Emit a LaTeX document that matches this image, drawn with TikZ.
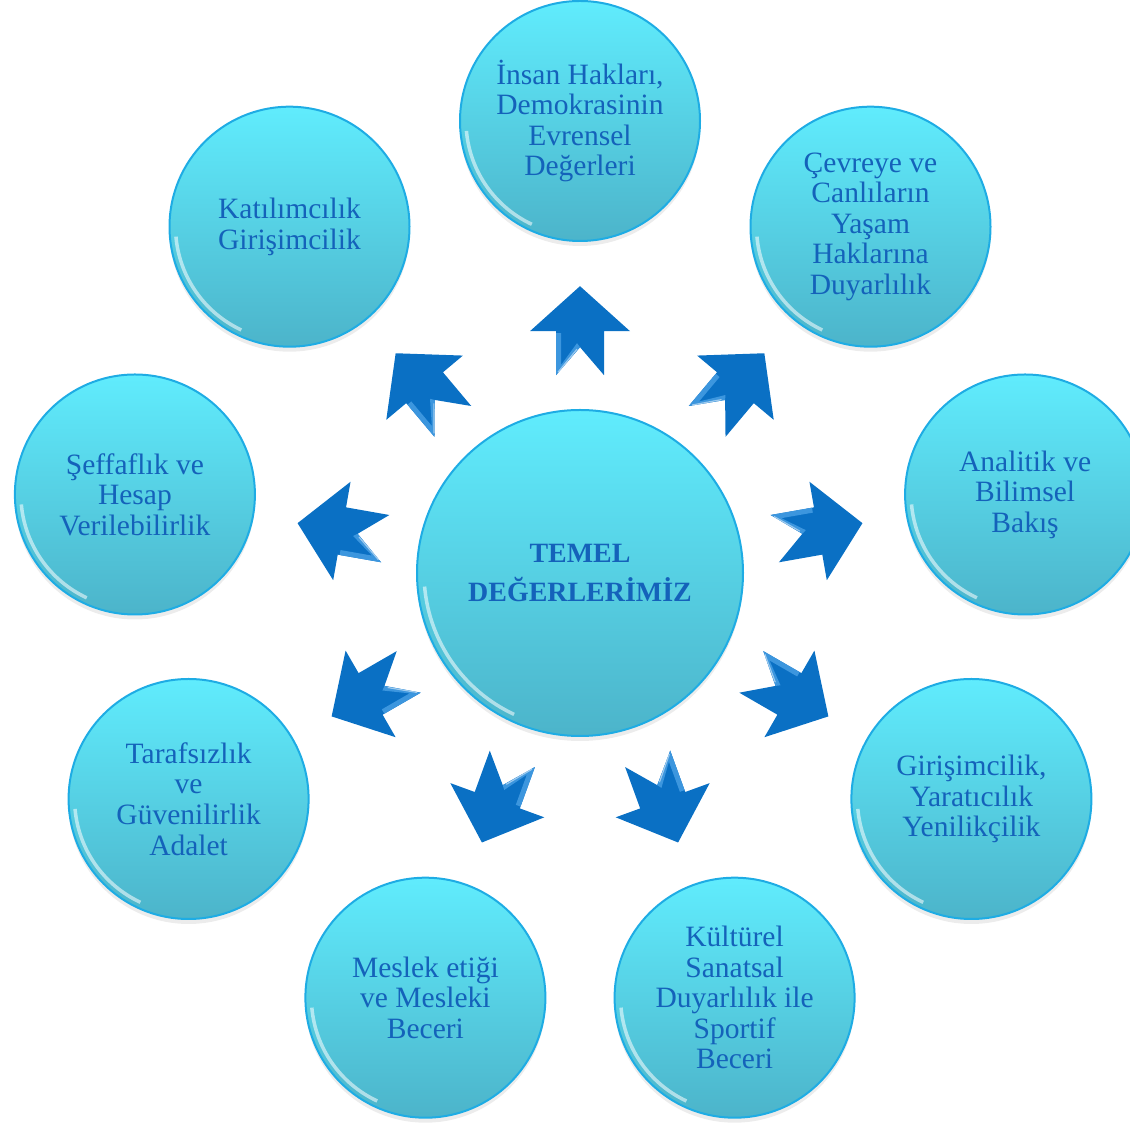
\documentclass[tikz,border=0pt]{standalone}
\usepackage{fontspec}
\setmainfont{Liberation Serif}
\usetikzlibrary{calc,shadows}

\newlength{\du}
\setlength{\du}{0.02cm}

\definecolor{arrowblue}{RGB}{10,112,196}
\definecolor{arrowshine}{RGB}{60,150,222}
\definecolor{inkblue}{RGB}{20,98,186}
\definecolor{balltop}{RGB}{96,236,253}
\definecolor{ballbottom}{RGB}{76,180,202}
\definecolor{ballrim}{RGB}{30,172,228}

\tikzset{
  ball/.style={circle, draw=ballrim, line width=2\du, top color=balltop,
    bottom color=ballbottom, inner sep=0pt, text=inkblue, align=center,
    drop shadow={opacity=.15, shadow xshift=0pt, shadow yshift=-5\du}},
  gloss/.style={path picture={
    \draw[white, opacity=.55, line width=3.5\du]
      ([shift={(185:#1)}]path picture bounding box.center)
      arc[start angle=185, end angle=245, radius=#1];}},
  valueball/.style={ball, gloss=114\du, minimum size=240\du,
    font=\fontsize{16.8}{17.4}\selectfont},
  coreball/.style={ball, gloss=156\du, minimum size=326\du,
    font=\fontsize{15.9}{22}\selectfont\bfseries},
  blockarrow/.pic={
    \fill[arrowblue] (45,0) -- (0,50) -- (0,24) -- (-44,24) -- (-16,0)
      -- (-44,-24) -- (0,-24) -- (0,-50) -- cycle;
    \fill[arrowshine] (-2,24) -- (-44,24) -- (-16,0) -- (-12,3)
      -- (-34,19) -- (-2,19) -- cycle;
    \draw[white, opacity=.5, line width=1.2\du] (-41,22) -- (-18,3);
  }
}

\begin{document}
\begin{tikzpicture}[x=1\du, y=1\du]
\useasboundingbox (0,0) rectangle (1130,1126);
\clip (0,0) rectangle (1130,1126);

% centre
\node[coreball] (core) at (580,553) {TEMEL\\DEĞERLERİMİZ};

% values, clockwise from the top
\node[valueball] (rights) at (580,1005) {İnsan Hakları,\\Demokrasinin\\Evrensel\\Değerleri};
\node[valueball] (nature) at (870.5,899.3) {Çevreye ve\\Canlıların\\Yaşam\\Haklarına\\Duyarlılık};
\node[valueball] (science) at (1025.1,631.5) {Analitik ve\\Bilimsel\\Bakış};
\node[valueball] (enterprise) at (971.4,327) {Girişimcilik,\\Yaratıcılık\\Yenilikçilik};
\node[valueball] (culture) at (734.6,128.3) {Kültürel\\Sanatsal\\Duyarlılık ile\\Sportif\\Beceri};
\node[valueball] (ethics) at (425.4,128.3) {Meslek etiği\\ve Mesleki\\Beceri};
\node[valueball] (justice) at (188.6,327) {Tarafsızlık\\ve\\Güvenilirlik\\Adalet};
\node[valueball] (openness) at (134.9,631.5) {Şeffaflık ve\\Hesap\\Verilebilirlik};
\node[valueball] (participation) at (289.5,899.3) {Katılımcılık\\Girişimcilik};

% arrows out of the centre
\path ($(core)!.535!(rights)$) pic[rotate=90] {blockarrow};
\path ($(core)!.535!(nature)$) pic[rotate=50] {blockarrow};
\path ($(core)!.535!(science)$) pic[rotate=10] {blockarrow};
\path ($(core)!.535!(enterprise)$) pic[rotate=-30] {blockarrow};
\path ($(core)!.535!(culture)$) pic[rotate=-70] {blockarrow};
\path ($(core)!.535!(ethics)$) pic[rotate=-110] {blockarrow};
\path ($(core)!.535!(justice)$) pic[rotate=-150] {blockarrow};
\path ($(core)!.535!(openness)$) pic[rotate=170] {blockarrow};
\path ($(core)!.535!(participation)$) pic[rotate=130] {blockarrow};
\end{tikzpicture}
\end{document}
